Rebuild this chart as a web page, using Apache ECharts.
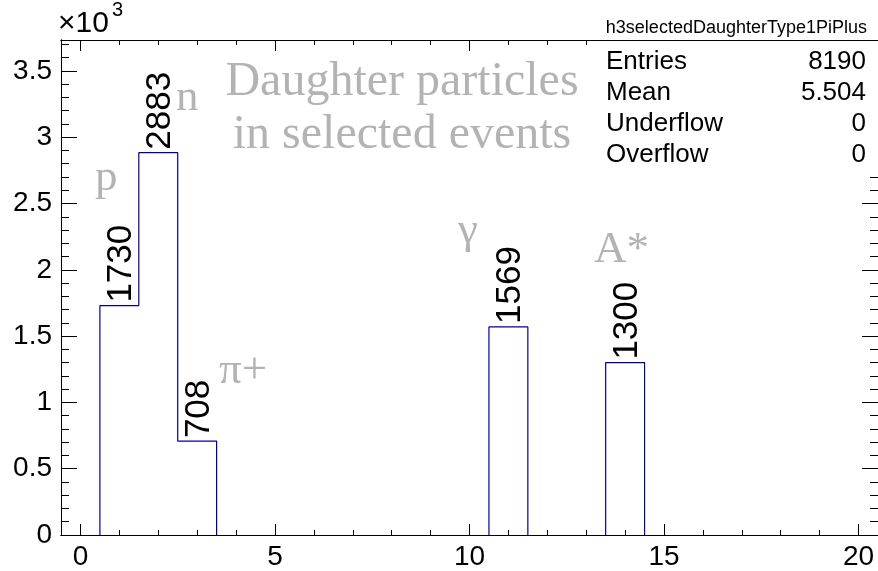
<!DOCTYPE html>
<html>
<head>
<meta charset="utf-8">
<script src="https://cdn.jsdelivr.net/npm/echarts@6/dist/echarts.min.js"></script>
<style>
  html, body { margin: 0; padding: 0; background: #ffffff; }
  #chart { width: 878px; height: 571px; }
</style>
</head>
<body>
<div id="chart"></div>
<script>
// Daughter particle type histogram: unit-width bins centred on 0..20
const binCenters = [0, 1, 2, 3, 4, 5, 6, 7, 8, 9, 10, 11, 12, 13, 14, 15, 16, 17, 18, 19, 20];
const binCounts  = [0, 1730, 2883, 708, 0, 0, 0, 0, 0, 0, 0, 1569, 0, 0, 1300, 0, 0, 0, 0, 0, 0];

// Axis ticks
const xMajorTicks = [0, 5, 10, 15, 20];
const xMinorTicks = [0, 1, 2, 3, 4, 5, 6, 7, 8, 9, 10, 11, 12, 13, 14, 15, 16, 17, 18, 19, 20];
const yMajorTicks = [0, 500, 1000, 1500, 2000, 2500, 3000, 3500];
const yMinorTicks = [0, 100, 200, 300, 400, 500, 600, 700, 800, 900, 1000, 1100, 1200, 1300, 1400,
                     1500, 1600, 1700, 1800, 1900, 2000, 2100, 2200, 2300, 2400, 2500, 2600, 2700,
                     2800, 2900, 3000, 3100, 3200, 3300, 3400, 3500, 3600, 3700];
const xRange = [-0.5, 20.5];
const yRange = [0, 3733];

// Statistics box
const histName = 'h3selectedDaughterType1PiPlus';
const underflow = 0;
const overflow = 0;

const SANS = '"Liberation Sans", Arial, Helvetica, sans-serif';
const SERIF = '"Liberation Serif", "Times New Roman", serif';
const LINE_BLUE = '#000099';
const ANNOT_GRAY = '#b3b3b3';

// Entries and mean follow from the bin contents
const entries = binCounts.reduce((s, v) => s + v, 0);
const mean = binCounts.reduce((s, v, i) => s + v * binCenters[i], 0) / entries;

// Step outline, one polyline per run of filled bins
const outlineRuns = [];
for (let i = 0; i < binCounts.length; ) {
  if (binCounts[i] === 0) { i++; continue; }
  const run = [[binCenters[i] - 0.5, 0]];
  while (i < binCounts.length && binCounts[i] > 0) {
    run.push([binCenters[i] - 0.5, binCounts[i]], [binCenters[i] + 0.5, binCounts[i]]);
    i++;
  }
  run.push([binCenters[i - 1] + 0.5, 0]);
  outlineRuns.push(run);
}

const filledBins = binCenters.map((c, i) => [c, binCounts[i]]).filter(d => d[1] > 0);

function xAxisDef(position, ticks, len, withLabel) {
  return {
    type: 'value', position: position, min: xRange[0], max: xRange[1],
    axisLine: { show: true, onZero: false, lineStyle: { color: '#000', width: 1 } },
    axisTick: { show: true, inside: true, length: len, customValues: ticks, lineStyle: { color: '#000', width: 1 } },
    axisLabel: withLabel ? { show: true, customValues: ticks, fontFamily: SANS, fontSize: 28, color: '#000', margin: 8 } : { show: false },
    splitLine: { show: false }
  };
}
function yAxisDef(position, ticks, len, withLabel) {
  return {
    type: 'value', position: position, min: yRange[0], max: yRange[1],
    axisLine: { show: true, onZero: false, lineStyle: { color: '#000', width: 1 } },
    axisTick: { show: true, inside: true, length: len, customValues: ticks, lineStyle: { color: '#000', width: 1 } },
    axisLabel: withLabel ? { show: true, customValues: ticks, fontFamily: SANS, fontSize: 28, color: '#000', margin: 9,
                             formatter: v => String(v / 1000) } : { show: false },
    splitLine: { show: false }
  };
}

const series = outlineRuns.map(run => ({
  type: 'line', xAxisIndex: 0, yAxisIndex: 0, data: run,
  symbol: 'none', silent: true, animation: false, z: 3,
  lineStyle: { color: LINE_BLUE, width: 1.2 }
}));

// Bin contents written vertically above each filled bin
series.push({
  type: 'custom', xAxisIndex: 0, yAxisIndex: 0, data: filledBins, animation: false, z: 4,
  renderItem: (params, api) => {
    const p = api.coord([api.value(0), api.value(1)]);
    return {
      type: 'text', x: p[0] + 2, y: p[1] - 3, rotation: Math.PI / 2,
      style: { text: String(api.value(1)), fontFamily: SANS, fontSize: 35, fill: '#000',
               align: 'left', verticalAlign: 'middle' }
    };
  }
});

const statRows = [
  ['Entries', String(entries)],
  ['Mean', mean.toFixed(3)],
  ['Underflow', String(underflow)],
  ['Overflow', String(overflow)]
];

function annot(text, x, y, size, align) {
  return { type: 'text', x: x, y: y, z: 50,
           style: { text: text, fontFamily: SERIF, fontSize: size, fill: ANNOT_GRAY,
                    align: align || 'left', verticalAlign: 'top' } };
}

const graphics = [
  // axis multiplier
  { type: 'text', left: 58, top: 9, z: 50, style: { text: '×10', fontFamily: SANS, fontSize: 30, fill: '#000' } },
  { type: 'text', left: 112, top: 0, z: 50, style: { text: '3', fontFamily: SANS, fontSize: 20, fill: '#000' } },
  // annotations
  annot('Daughter particles', 402, 58, 48, 'center'),
  annot('in selected events', 402, 111, 48, 'center'),
  annot('p', 95, 156, 45),
  annot('n', 176, 76, 45),
  annot('π+', 219, 349, 45),
  annot('γ', 458, 209, 45),
  annot('A*', 594, 228, 45),
  // statistics box
  { type: 'rect', shape: { x: 590, y: 12, width: 300, height: 160 }, z: 60, style: { fill: '#fff' } },
  { type: 'line', shape: { x1: 590, y1: 40.5, x2: 878, y2: 40.5 }, z: 61, style: { stroke: '#000', lineWidth: 1 } },
  { type: 'text', x: 867, y: 28, z: 61, style: { text: histName, fontFamily: SANS, fontSize: 18, fill: '#000', align: 'right', verticalAlign: 'middle' } }
];
statRows.forEach((row, k) => {
  const y = 62 + k * 31;
  graphics.push({ type: 'text', x: 606, y: y, z: 61, style: { text: row[0], fontFamily: SANS, fontSize: 26, fill: '#000', align: 'left', verticalAlign: 'middle' } });
  graphics.push({ type: 'text', x: 866, y: y, z: 61, style: { text: row[1], fontFamily: SANS, fontSize: 26, fill: '#000', align: 'right', verticalAlign: 'middle' } });
});

const chart = echarts.init(document.getElementById('chart'), null, { renderer: 'canvas' });
chart.setOption({
  animation: false,
  backgroundColor: '#ffffff',
  grid: { left: 61, top: 40, width: 819.5, height: 497, containLabel: false },
  xAxis: [
    xAxisDef('bottom', xMajorTicks, 11, true),
    xAxisDef('bottom', xMinorTicks, 5, false),
    xAxisDef('top', xMajorTicks, 11, false),
    xAxisDef('top', xMinorTicks, 5, false)
  ],
  yAxis: [
    yAxisDef('left', yMajorTicks, 16, true),
    yAxisDef('left', yMinorTicks, 8, false),
    yAxisDef('right', yMajorTicks, 16, false),
    yAxisDef('right', yMinorTicks, 8, false)
  ],
  series: series,
  graphic: graphics
});
</script>
</body>
</html>
